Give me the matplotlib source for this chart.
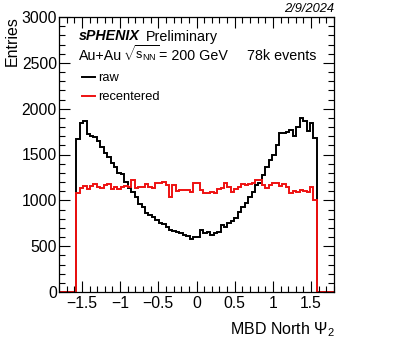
import numpy as np
import matplotlib
matplotlib.use("Agg")
import matplotlib.pyplot as plt
from matplotlib.lines import Line2D
from matplotlib.ticker import MultipleLocator

plt.rcParams['font.family'] = ['Liberation Sans', 'DejaVu Sans']
plt.rcParams['mathtext.fontset'] = 'custom'
plt.rcParams['mathtext.rm'] = 'Liberation Sans'
plt.rcParams['mathtext.it'] = 'Liberation Sans:italic'
plt.rcParams['mathtext.bf'] = 'Liberation Sans:bold'

# Histogram binning
nbins = 80
xmin, xmax = -1.8, 1.8
n_empty = 5  # empty bins on each side

raw = [1666, 1840, 1865, 1720, 1705, 1694, 1651, 1585, 1513, 1476,
       1411, 1367, 1302, 1284, 1204, 1131, 1091, 1033, 965, 931,
       860, 840, 821, 785, 756, 742, 712, 676, 669, 658,
       647, 622, 611, 575, 596, 596, 676, 640, 658, 622,
       640, 658, 731, 712, 749, 778, 804, 876, 931, 967,
       1040, 1094, 1167, 1185, 1276, 1367, 1440, 1494, 1604, 1731,
       1740, 1745, 1767, 1700, 1800, 1895, 1870, 1760, 1845, 1676]

recentered = [1083, 1131, 1156, 1120, 1156, 1178, 1142, 1131, 1167, 1178,
              1120, 1142, 1120, 1142, 1156, 1142, 1222, 1130, 1142, 1142,
              1178, 1150, 1131, 1185, 1185, 1204, 1167, 1040, 1167, 1105,
              1113, 1113, 1113, 1095, 1185, 1185, 1113, 1083, 1083, 1095,
              1083, 1120, 1131, 1193, 1149, 1095, 1120, 1149, 1178, 1167,
              1178, 1193, 1222, 1222, 1167, 1131, 1167, 1185, 1193, 1156,
              1178, 1149, 1076, 1105, 1095, 1113, 1105, 1095, 1149, 1003]

yticks = [0, 500, 1000, 1500, 2000, 2500, 3000]
xticks = [-1.5, -1, -0.5, 0, 0.5, 1, 1.5]

edges = np.linspace(xmin, xmax, nbins + 1)
pad = np.zeros(n_empty)
raw_full = np.concatenate([pad, raw, pad])
rec_full = np.concatenate([pad, recentered, pad])

RED = '#ee1111'
W, H = 393, 348
fig = plt.figure(figsize=(W / 100, H / 100), dpi=100)
ax = fig.add_axes([59 / W, 1 - 292 / H, 275 / W, 275 / H])

ax.stairs(raw_full, edges, color='black', lw=1.4, baseline=0)
ax.stairs(rec_full, edges, color=RED, lw=1.4, baseline=0)

ax.set_xlim(xmin, xmax)
ax.set_ylim(0, 3000)
ax.set_xticks(xticks)
ax.set_xticklabels(['\u22121.5', '\u22121', '\u22120.5', '0', '0.5', '1', '1.5'])
ax.set_yticks(yticks)
ax.xaxis.set_minor_locator(MultipleLocator(0.1))
ax.yaxis.set_minor_locator(MultipleLocator(100))
ax.tick_params(which='both', direction='in', top=True, right=True, labelsize=11.3)
ax.tick_params(which='major', length=8, width=0.8)
ax.tick_params(which='minor', length=4, width=0.8)
ax.tick_params(axis='x', pad=3)
ax.tick_params(axis='y', pad=1.5)
for s in ax.spines.values():
    s.set_linewidth(0.9)

def fx(px):
    return px / W

def fy(py):
    return 1 - py / H

fig.text(fx(12.5), fy(16), 'Entries', rotation=90, ha='center', va='top', fontsize=11.5)
fig.text(fx(335), fy(339), r'MBD North $\Psi_{2}$', ha='right', va='bottom', fontsize=11.5)
fig.text(fx(334), fy(11.5), '2/9/2024', ha='right', va='baseline', fontsize=9.3, style='italic')

fig.text(fx(79), fy(40.5), 'sPHENIX', ha='left', va='baseline', fontsize=10.3,
         fontweight='bold', style='italic')
fig.text(fx(218), fy(40.5), 'Preliminary', ha='right', va='baseline', fontsize=10.3)
fig.text(fx(79), fy(59.5), 'Au+Au', ha='left', va='baseline', fontsize=10.3)
fig.text(fx(123), fy(59.5), r'$\sqrt{\mathrm{s}_{\mathrm{NN}}}$', ha='left', va='baseline',
         fontsize=9.2)
fig.text(fx(228), fy(59.5), '= 200 GeV', ha='right', va='baseline', fontsize=10.3)
fig.text(fx(247), fy(59.5), '78k events', ha='left', va='baseline', fontsize=10.3)

handles = [Line2D([], [], color='black', lw=1.4), Line2D([], [], color=RED, lw=1.4)]
ax.legend(handles, ['raw', 'recentered'], loc='upper left',
          bbox_to_anchor=(fx(82), fy(72)), bbox_transform=fig.transFigure,
          frameon=False, fontsize=9.3, handlelength=1.0, handletextpad=0.25,
          labelspacing=0.55, borderpad=0, borderaxespad=0)

fig.savefig('out.png', dpi=100)
